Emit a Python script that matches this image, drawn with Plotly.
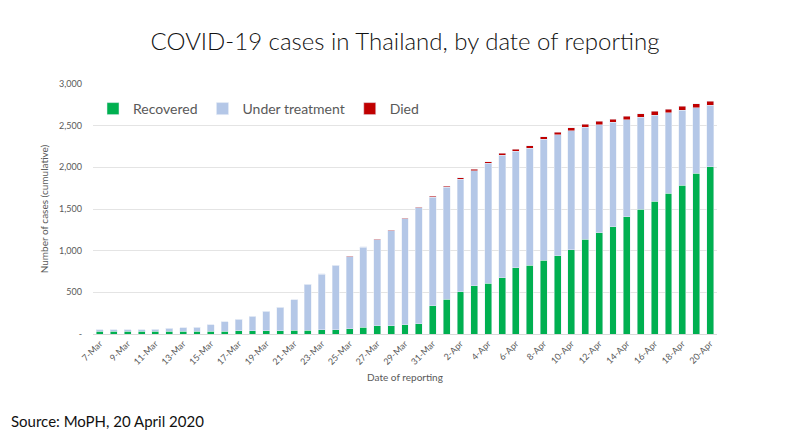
import plotly.graph_objects as go

dates = ["7-Mar","8-Mar","9-Mar","10-Mar","11-Mar","12-Mar","13-Mar","14-Mar","15-Mar","16-Mar",
         "17-Mar","18-Mar","19-Mar","20-Mar","21-Mar","22-Mar","23-Mar","24-Mar","25-Mar","26-Mar",
         "27-Mar","28-Mar","29-Mar","30-Mar","31-Mar","1-Apr","2-Apr","3-Apr","4-Apr","5-Apr",
         "6-Apr","7-Apr","8-Apr","9-Apr","10-Apr","11-Apr","12-Apr","13-Apr","14-Apr","15-Apr",
         "16-Apr","17-Apr","18-Apr","19-Apr","20-Apr"]

total = [50, 50, 50, 53, 59, 70, 75, 82, 114, 147,
         177, 212, 272, 322, 411, 599, 721, 827, 934, 1045,
         1136, 1245, 1388, 1524, 1651, 1771, 1875, 1978, 2067, 2169,
         2220, 2258, 2369, 2423, 2473, 2518, 2551, 2579, 2613, 2643,
         2672, 2700, 2733, 2765, 2792]

recovered = [31, 31, 31, 33, 34, 35, 35, 35, 35, 36,
             41, 42, 42, 42, 44, 44, 52, 52, 64, 84,
             97, 97, 110, 124, 342, 416, 505, 581, 612, 674,
             793, 824, 888, 940, 1013, 1135, 1218, 1288, 1405, 1497,
             1593, 1689, 1787, 1928, 2009]

died = [1, 1, 1, 1, 1, 1, 1, 1, 1, 1,
        1, 1, 1, 1, 1, 1, 1, 1, 4, 4,
        5, 6, 7, 9, 10, 12, 15, 19, 20, 23,
        26, 27, 30, 32, 33, 35, 38, 40, 41, 43,
        46, 46, 47, 47, 47]

under_treatment = [t - r - d for t, r, d in zip(total, recovered, died)]

tick_labels = dates[::2]

FONT = "Lato"
GRAY = "#595959"

fig = go.Figure()
fig.add_trace(go.Bar(x=dates, y=recovered, name="Recovered", marker_color="#00B050"))
fig.add_trace(go.Bar(x=dates, y=under_treatment, name="Under treatment", marker_color="#B4C7E7"))
fig.add_trace(go.Bar(x=dates, y=died, name="Died", marker_color="#C00000"))

# plot area: 624 x 250 px
fig.update_layout(
    width=794, height=433,
    barmode="stack", bargap=0.5,
    plot_bgcolor="white", paper_bgcolor="white",
    margin=dict(l=85, r=85, t=76, b=107),
    font=dict(family=FONT, color=GRAY),
    title=dict(text="COVID-19 cases in Thailand, by date of reporting",
               x=0.5, xanchor="center", y=1 - 34/433, yanchor="middle",
               font=dict(family=FONT, size=24, color="#111111", weight=300)),
    legend=dict(orientation="h", x=0.0, y=0.9, xanchor="left", yanchor="middle",
                font=dict(family=FONT, size=14, color=GRAY),
                itemwidth=30, traceorder="normal", bgcolor="rgba(0,0,0,0)"),
    showlegend=True,
    annotations=[
        dict(text="Source: MoPH, 20 April 2020", xref="paper", yref="paper",
             x=-84/624, y=-87/250, xanchor="left", yanchor="middle", showarrow=False,
             font=dict(family=FONT, size=15, color="#111111")),
    ],
)

fig.update_xaxes(
    type="category", tickmode="array", tickvals=tick_labels, ticktext=tick_labels,
    tickangle=-45, tickfont=dict(size=9, color=GRAY), showgrid=False,
    showline=True, linecolor="#D9D9D9", ticks="",
    title=dict(text="Date of reporting", font=dict(size=10, color=GRAY), standoff=8),
)
fig.update_yaxes(
    range=[0, 3000], tickvals=[0, 500, 1000, 1500, 2000, 2500, 3000],
    ticktext=["-", "500", "1,000", "1,500", "2,000", "2,500", "3,000"],
    tickfont=dict(size=9, color=GRAY), showgrid=True, gridcolor="#E4E4E4",
    zeroline=False, ticks="", ticklen=0, ticklabelstandoff=10,
    title=dict(text="Number of cases (cumulative)", font=dict(size=10, color=GRAY), standoff=8),
)

fig.write_html("out.html")
